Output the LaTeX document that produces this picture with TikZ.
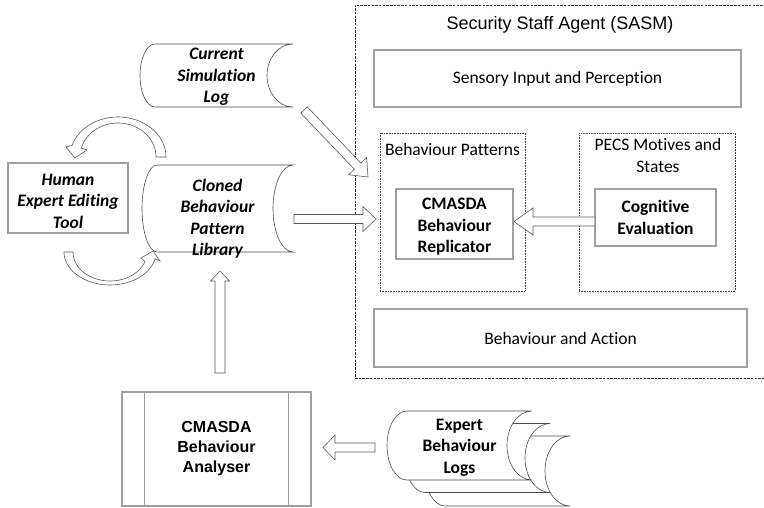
\documentclass[tikz,border=0pt]{standalone}
\usepackage{fontspec}
\newfontfamily\calfont[Ligatures=NoCommon]{Carlito}
\newfontfamily\arialfont{Liberation Sans}
\usetikzlibrary{calc}

\tikzset{
  graybox/.style={draw=gray!75, line width=1.2pt, fill=white, inner sep=0pt},
  dotbox/.style={draw=black!75, line width=0.8pt, dash pattern=on 0.8pt off 0.8pt, inner sep=0pt},
  sasmbox/.style={draw=black!80, line width=0.9pt, dash pattern=on 2.5pt off 1.2pt, inner sep=0pt},
  storeline/.style={draw=black!70, line width=0.6pt, fill=white},
  barrow/.style={draw=black!65, line width=0.6pt, fill=white, line join=miter},
  caltext/.style={font=\calfont\fontsize{17.5}{21.5}\selectfont, align=center, inner sep=0pt},
  calbold/.style={font=\calfont\bfseries\fontsize{17.5}{21.5}\selectfont, align=center, inner sep=0pt},
  calbi/.style={font=\calfont\bfseries\itshape\fontsize{17.5}{21.5}\selectfont, align=center, inner sep=0pt},
  arialbold/.style={font=\arialfont\bfseries\fontsize{16}{20}\selectfont, align=center, inner sep=0pt},
  arialtext/.style={font=\arialfont\fontsize{18}{21}\selectfont, align=center, inner sep=0pt},
}

% stored-data outline: x1 y1 x2 y2 left-depth right-depth
\newcommand\storeshape[6]{%
  \draw[storeline] ({#1+#5},#2) -- (#3,#2)
    .. controls ({#3-0.552*#6},#2) and ({#3-#6},{(#2+#4)/2-0.552*(#4-#2)/2}) .. ({#3-#6},{(#2+#4)/2})
    .. controls ({#3-#6},{(#2+#4)/2+0.552*(#4-#2)/2}) and ({#3-0.552*#6},#4) .. (#3,#4)
    -- ({#1+#5},#4)
    .. controls ({#1+#5-0.552*#5},#4) and (#1,{(#2+#4)/2+0.552*(#4-#2)/2}) .. (#1,{(#2+#4)/2})
    .. controls (#1,{(#2+#4)/2-0.552*(#4-#2)/2}) and ({#1+#5-0.552*#5},#2) .. ({#1+#5},#2) -- cycle;}

% straight block arrow: from, to, shaft width, head width, head length
\newcommand\blockarrow[5]{%
  \path let \p1=(#1), \p2=(#2) in \pgfextra{%
    \pgfmathsetmacro\baang{atan2(\y2-\y1,\x2-\x1)}%
    \pgfmathsetmacro\balen{veclen(\x2-\x1,\y2-\y1)}%
    \xdef\baangG{\baang}\xdef\balenG{\balen}};
  \begin{scope}[shift={(#1)}, rotate=\baangG, x=1pt, y=1pt]
    \draw[barrow] (0,{-#3/2}) -- ({\balenG-#5},{-#3/2}) -- ({\balenG-#5},{-#4/2})
      -- (\balenG,0) -- ({\balenG-#5},{#4/2}) -- ({\balenG-#5},{#3/2}) -- (0,{#3/2}) -- cycle;
  \end{scope}}

\begin{document}
\begin{tikzpicture}[x=1pt, y=-1pt]
\useasboundingbox (0,0) rectangle (764,508);

% agent frame
\node[sasmbox, minimum width=415pt, minimum height=373pt] (sasm) at (562.5,191.5) {};
\node[arialtext] (sasmtitle) at (560,25) {Security Staff Agent (SASM)};

\node[graybox, caltext, minimum width=367pt, minimum height=57pt] (sens) at (557.5,78.5) {Sensory Input and Perception};
\node[graybox, caltext, minimum width=373pt, minimum height=58pt] (act) at (560.5,338) {Behaviour and Action};

\node[dotbox, minimum width=145pt, minimum height=158pt] (bp) at (452.5,212) {};
\node[caltext] (bptitle) at (452.5,149) {Behaviour Patterns};
\node[dotbox, minimum width=156pt, minimum height=158pt] (pecs) at (657,212) {};
\node[caltext] (pecstitle) at (658,155.5) {PECS Motives and\\States};

\node[graybox, minimum width=117pt, minimum height=70pt] (rep) at (454.5,224) {};
\node[calbold] (reptext) at (454.5,227) {CMASDA\\Behaviour\\Replicator};
\node[graybox, calbold, minimum width=121pt, minimum height=57pt] (cog) at (655.5,217.5) {Cognitive\\Evaluation};

% data stores
\storeshape{140}{44}{293}{107}{15}{26}
\node[calbi, minimum width=153pt] (csl) at (216.5,77) {Current\\Simulation\\Log};
\storeshape{142}{165}{293}{252}{15}{20}
\node[calbi, minimum width=151pt] (lib) at (217.5,218.5) {Cloned\\Behaviour\\Pattern\\Library};

\node[graybox, minimum width=120pt, minimum height=70pt] (hum) at (68,198) {};
\node[calbi] (humtext) at (68,201) {Human\\Expert Editing\\Tool};

% stacked expert logs
\storeshape{425}{436}{570}{506}{20}{25}
\storeshape{405}{423.5}{550}{492.5}{20}{25}
\storeshape{387}{411}{532}{480}{20}{25}
\node[calbold, minimum width=145pt] (logs) at (459.5,447.5) {Expert\\Behaviour\\Logs};

% predefined process
\node[graybox, arialbold, minimum width=189pt, minimum height=114pt] (ana) at (216.5,449) {CMASDA\\Behaviour\\Analyser};
\draw[gray!75, line width=1.2pt] ($(ana.north west)+(23,0)$) -- ($(ana.south west)+(23,0)$);
\draw[gray!75, line width=1.2pt] ($(ana.north east)+(-23,0)$) -- ($(ana.south east)+(-23,0)$);

% block arrows
\coordinate (cslout) at (304,110);
\coordinate (bpin1) at (368,177);
\coordinate (libout) at (294,219);
\coordinate (bpin2) at (376,219);
\coordinate (cogout) at (595,221.5);
\coordinate (repin) at (514,221.5);
\coordinate (anaout) at (220,373);
\coordinate (libin) at (220,271);
\coordinate (logsout) at (375,447.5);
\coordinate (anain) at (323,447.5);
\blockarrow{cslout}{bpin1}{9}{25}{15}
\blockarrow{libout}{bpin2}{9}{25}{13}
\blockarrow{cogout}{repin}{9}{27}{19}
\blockarrow{anaout}{libin}{10}{19}{10}
\blockarrow{logsout}{anain}{9}{25}{12}

% editing loop between tool and library
\draw[barrow] plot[domain=0:163, samples=40, smooth] ({118+48*cos(\x)},{157-40*sin(\x)})
  -- (66,147) -- (75,158) -- (87,150)
  -- plot[domain=165:0, samples=40, smooth] ({118+38*cos(\x)},{157-34*sin(\x)}) -- cycle;
\draw[barrow] plot[domain=180:12, samples=40, smooth] ({110+46*cos(\x)},{252+33*sin(\x)})
  -- (160,261) -- (153,251) -- (141,258)
  -- plot[domain=19:180, samples=40, smooth] ({110+37*cos(\x)},{252+29*sin(\x)}) -- cycle;
\end{tikzpicture}
\end{document}
